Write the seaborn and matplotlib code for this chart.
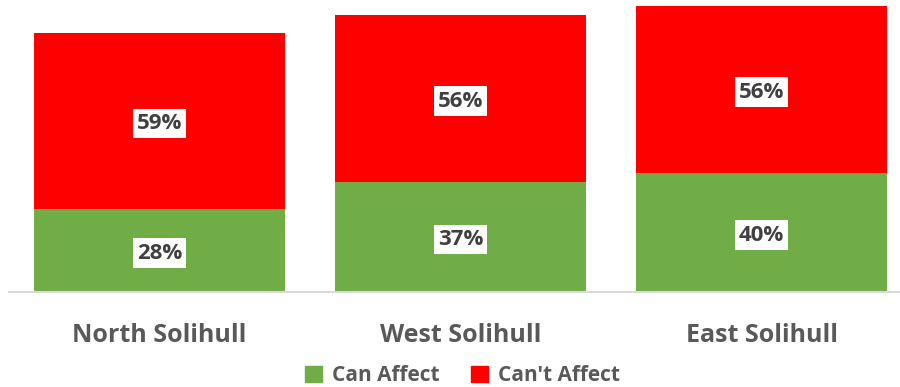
import matplotlib
matplotlib.use("Agg")
import matplotlib.pyplot as plt
import matplotlib.patches as mpatches
import seaborn as sns
import pandas as pd

# data
regions = ["North Solihull", "West Solihull", "East Solihull"]
can_affect = [28, 37, 40]
cant_affect = [59, 56, 56]

GREEN = "#70AD47"
RED = "#FF0000"

sns.set_style("white")
plt.rcParams["font.family"] = ["Open Sans", "DejaVu Sans"]

df = pd.DataFrame({"region": regions, "can": can_affect, "cant": cant_affect})
df["total"] = df["can"] + df["cant"]

fig = plt.figure(figsize=(9, 3.87), dpi=100)
ax = fig.add_axes([9 / 900, 1 - 292 / 387, 903 / 900, 292 / 387])

sns.barplot(data=df, x="region", y="total", color=RED, width=0.835,
            saturation=1, linewidth=0, ax=ax)
sns.barplot(data=df, x="region", y="can", color=GREEN, width=0.835,
            saturation=1, linewidth=0, ax=ax)

box = dict(facecolor="white", edgecolor="none", pad=3)
for i, row in df.iterrows():
    for val, ymid in [(row["can"], row["can"] / 2),
                      (row["cant"], row["can"] + row["cant"] / 2)]:
        ax.annotate(f"{val}%", (i, ymid), xytext=(0, -2), textcoords="offset points",
                    ha="center", va="center", fontsize=16, fontweight="bold",
                    color="#404040", bbox=box)

ax.set_ylim(0, 98)
ax.set_xlim(-0.5, 2.5)
ax.set_xlabel("")
ax.set_ylabel("")
ax.set_yticks([])
ax.tick_params(axis="x", length=0, pad=22)
for lab in ax.get_xticklabels():
    lab.set_fontsize(18)
    lab.set_fontweight("bold")
    lab.set_color("#595959")
for s in ["top", "right", "left"]:
    ax.spines[s].set_visible(False)
ax.spines["bottom"].set_color("#D9D9D9")
ax.spines["bottom"].set_linewidth(1.5)

handles = [mpatches.Patch(color=GREEN, label="Can Affect"),
           mpatches.Patch(color=RED, label="Can't Affect")]
leg = fig.legend(handles=handles, loc="center", bbox_to_anchor=(0.514, 0.03),
                 ncol=2, frameon=False, handlelength=0.8, handleheight=0.8,
                 handletextpad=0.5, columnspacing=1.5,
                 prop={"size": 15, "weight": "bold"})
for t in leg.get_texts():
    t.set_color("#595959")

fig.savefig("out.png", dpi=100)
